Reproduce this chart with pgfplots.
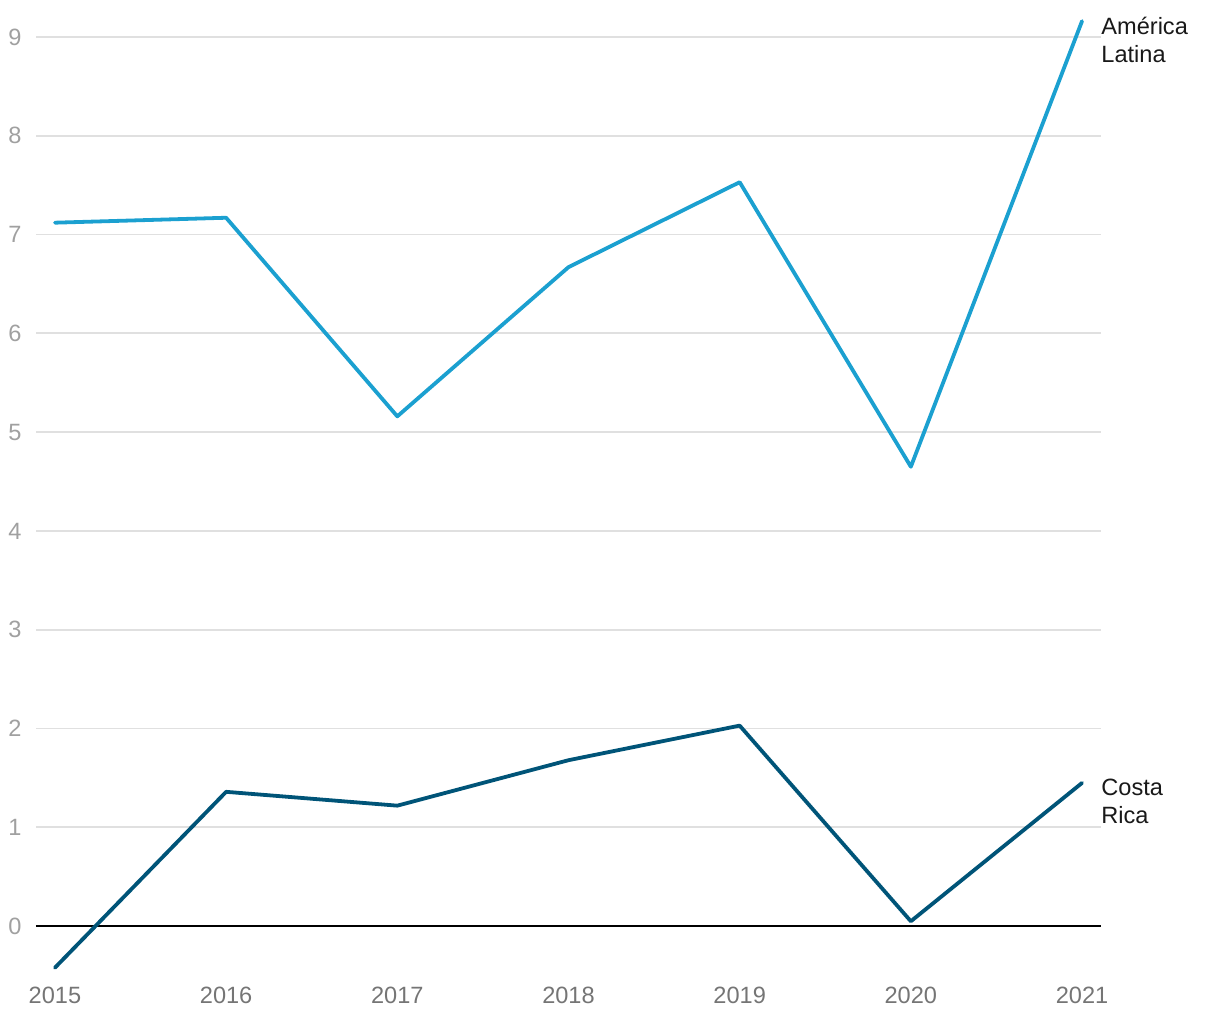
\documentclass[border=0pt]{standalone}
\usepackage{pgfplots}
\pgfplotsset{compat=1.18}
\usepackage{fontspec}
\setmainfont{Liberation Sans}
\definecolor{latam}{HTML}{1BA0D0}
\definecolor{cr}{HTML}{005478}
\definecolor{ylab}{HTML}{A0A0A0}
\definecolor{xlab}{HTML}{757575}
\definecolor{gridc}{HTML}{E0E0E0}
\begin{document}
\begin{tikzpicture}
\begin{axis}[
  scale only axis,
  width=533pt, height=490.7pt,
  xmin=2014.889, xmax=2021.111,
  ymin=-0.55, ymax=9.374,
  clip=false,
  axis line style={draw=none},
  major tick length=0pt,
  xtick={2015,2016,2017,2018,2019,2020,2021},
  ytick={0,1,2,3,4,5,6,7,8,9},
  xticklabel style={/pgf/number format/1000 sep={}, anchor=north, inner sep=0pt, yshift=-3pt, text=xlab, font=\fontsize{11.8}{14}\selectfont},
  yticklabel style={anchor=east, inner sep=0pt, xshift=-7pt, text=ylab, font=\fontsize{11.8}{14}\selectfont},
  /pgf/number format/assume math mode=true,
  ymajorgrids,
  major grid style={gridc, line width=0.9pt},
]
\draw[black, line width=0.9pt] (axis cs:2014.889,0) -- (axis cs:2021.111,0);
\addplot[latam, line width=1.9pt, line join=round, line cap=round] coordinates {
  (2015,7.12) (2016,7.17) (2017,5.16) (2018,6.67) (2019,7.53) (2020,4.65) (2021,9.16)
};
\addplot[cr, line width=1.9pt, line join=round, line cap=round] coordinates {
  (2015,-0.42) (2016,1.36) (2017,1.22) (2018,1.68) (2019,2.03) (2020,0.05) (2021,1.45)
};
\node[anchor=west, align=left, inner sep=0pt, xshift=9.5pt, yshift=-9.5pt, font=\fontsize{11.8}{14}\selectfont, text=black!90] at (axis cs:2021,9.16) {América\\Latina};
\node[anchor=west, align=left, inner sep=0pt, xshift=9.5pt, yshift=-9pt, font=\fontsize{11.8}{14}\selectfont, text=black!90] at (axis cs:2021,1.45) {Costa\\Rica};
\coordinate (bl) at (axis cs:2014.679,-0.940);
\coordinate (tr) at (axis cs:2021.806,9.374);
\end{axis}
\pgfresetboundingbox
\useasboundingbox (bl) rectangle (tr);
\end{tikzpicture}
\end{document}
